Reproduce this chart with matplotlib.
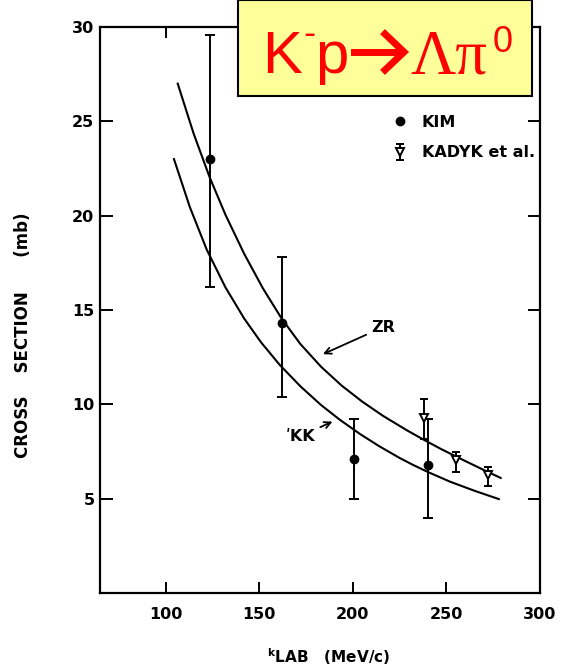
import matplotlib
matplotlib.use("Agg")
import matplotlib.pyplot as plt
from matplotlib.patches import Rectangle
from matplotlib.lines import Line2D

# KIM measurements
kim_k = [123.5, 162.0, 200.5, 240.0]
kim_sigma = [23.0, 14.3, 7.1, 6.8]
kim_lo = [6.8, 3.9, 2.1, 2.8]
kim_hi = [6.6, 3.5, 2.1, 2.4]

# KADYK et al. measurements
kad_k = [237.8, 255.1, 272.0]
kad_sigma = [9.3, 7.05, 6.25]
kad_lo = [1.15, 0.65, 0.6]
kad_hi = [1.0, 0.4, 0.45]

# ZR curve
zr_k = [106.5, 115, 123.5, 132, 142, 152, 162, 172, 183, 194, 205, 216, 229, 238, 247, 260, 270, 279]
zr_sigma = [27.0, 24.35, 22.05, 20.05, 17.98, 16.15, 14.55, 13.2, 12.0, 11.0, 10.15, 9.4,
            8.62, 8.12, 7.64, 7.0, 6.52, 6.1]

# KK curve
kk_k = [104.5, 113, 122, 132, 142, 151, 161, 172, 183, 193, 204, 214, 225, 232, 240, 252, 265, 278]
kk_sigma = [23.0, 20.45, 18.2, 16.2, 14.55, 13.29, 12.09, 10.96, 9.97, 9.19, 8.42, 7.79,
            7.16, 6.8, 6.42, 5.9, 5.42, 4.98]

xticks = [100, 150, 200, 250, 300]
yticks = [5, 10, 15, 20, 25, 30]

fig = plt.figure(figsize=(5.67, 6.71), dpi=100)
ax = fig.add_axes([0.1764, 0.1162, 0.776, 0.8435])

ax.plot(zr_k, zr_sigma, color='black', lw=1.5)
ax.plot(kk_k, kk_sigma, color='black', lw=1.5)

ax.errorbar(kim_k, kim_sigma, yerr=[kim_lo, kim_hi], fmt='o', color='black',
            ms=6, elinewidth=1.4, capsize=3.5, capthick=1.4)
ax.errorbar(kad_k, kad_sigma, yerr=[kad_lo, kad_hi], fmt='v', color='black',
            mfc='white', mec='black', mew=1.4, ms=6, elinewidth=1.4,
            capsize=3, capthick=1.4)

# curve labels
ax.annotate('ZR', xy=(182.7, 12.6), xytext=(210, 14.1), fontsize=11.5, fontweight='bold',
            va='center', ha='left',
            arrowprops=dict(arrowstyle='->', color='black', lw=1.3))
ax.annotate("ʹKK", xy=(190.5, 9.15), xytext=(164, 8.3), fontsize=11.5, fontweight='bold',
            va='center', ha='left',
            arrowprops=dict(arrowstyle='->', color='black', lw=1.3))

ax.set_xlim(65, 300)
ax.set_ylim(0, 30)
ax.set_xticks(xticks)
ax.set_yticks(yticks)
ax.tick_params(axis='x', direction='in', length=8, width=1.4, top=True, pad=10,
               labelsize=11.5)
ax.tick_params(axis='y', direction='in', length=9, width=1.4, right=True, pad=4,
               labelsize=11.5)
for lab in ax.get_xticklabels() + ax.get_yticklabels():
    lab.set_fontweight('bold')
for s in ax.spines.values():
    s.set_linewidth(1.6)

ax.set_xlabel(r'$\mathregular{^{k}}$LAB   (MeV/c)', fontsize=11, fontweight='bold')
ax.xaxis.set_label_coords(0.52, -0.094)
ax.set_ylabel('CROSS    SECTION      (mb)', fontsize=12, fontweight='bold')
ax.yaxis.set_label_coords(-0.155, 0.455)

handles = [Line2D([], [], marker='o', color='black', ls='none', ms=6),
           ax.containers[1]]
ax.legend(handles, ['KIM', 'KADYK et al.'], loc='upper left',
          bbox_to_anchor=(0.63, 0.87), frameon=False, handlelength=1.0,
          handletextpad=0.9, labelspacing=0.95, prop={'weight': 'bold', 'size': 11.5})

# title box
box = Rectangle((238 / 567, 1 - 96 / 671), (532 - 238) / 567, 96 / 671,
                transform=fig.transFigure, facecolor='#FFFF99', edgecolor='black',
                lw=1.5, zorder=5)
fig.add_artist(box)
base = 1 - 73 / 671
red = '#FF0000'
fig.text(262 / 567, base, 'K', fontsize=43, color=red, family='Liberation Sans',
         va='baseline', zorder=6)
fig.text(303 / 567, 1 - 44 / 671, '-', fontsize=26, color=red, family='Liberation Sans',
         va='baseline', zorder=6)
fig.text(315 / 567, base, 'p', fontsize=43, color=red, family='Liberation Sans',
         va='baseline', zorder=6)
fig.add_artist(plt.Line2D([354 / 567, 400 / 567], [1 - 52 / 671, 1 - 52 / 671],
                          color=red, lw=5, zorder=6))
fig.add_artist(plt.Line2D([385 / 567, 404 / 567, 385 / 567],
                          [1 - 34 / 671, 1 - 52 / 671, 1 - 70 / 671],
                          color=red, lw=5, zorder=6, solid_joinstyle='miter'))
fig.text(410 / 567, base, 'Λπ', fontsize=45, color=red, family='Liberation Serif',
         va='baseline', zorder=6)
fig.text(493 / 567, 1 - 52 / 671, '0', fontsize=26, color=red, family='Liberation Sans',
         va='baseline', zorder=6)

fig.savefig('out.png', dpi=100)
